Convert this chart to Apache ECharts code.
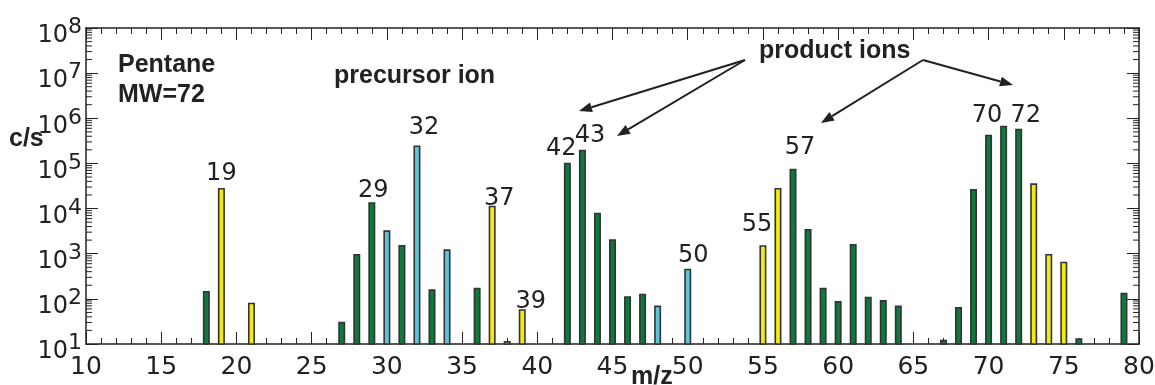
<!DOCTYPE html>
<html><head><meta charset="utf-8">
<script src="https://cdn.jsdelivr.net/npm/echarts@6/dist/echarts.min.js"></script>
<style>html,body{margin:0;padding:0;background:#fff}#c{width:1155px;height:385px}</style>
</head><body><div id="c"></div>
<script>
// m/z of each peak
const mz = [18,19,21,27,28,29,30,31,32,33,34,36,37,38,39,42,43,44,45,46,47,48,50,55,56,57,58,59,60,61,62,63,64,67,68,69,70,71,72,73,74,75,76,79];
// counts per second
const counts = [150,28600,82,31,990,13800,3300,1560,251000,163,1250,177,11600,11.6,59,104000,202000,8100,2080,114,130,71,467,1540,28600,76500,3530,177,90,1640,112,94,71,12.5,66,27200,433000,686000,589000,36300,990,665,13.4,137];
// ion group: g = green, y = yellow, b = blue
const ionType = ['g','y','y','g','g','g','b','g','b','g','b','g','y','y','y','g','g','g','g','g','g','b','b','y','y','g','g','g','g','g','g','g','g','g','g','g','g','g','g','y','y','y','g','g'];
// peaks with numeric labels
const labeledPeaks = [19,29,32,37,39,42,43,50,55,57,70,72];
const xTicks = [10,15,20,25,30,35,40,45,50,55,60,65,70,75,80];
const yDecades = [1,2,3,4,5,6,7,8];

const colors = {g:'#0b7a3b', y:'#f3ea12', b:'#5fc4da'};
const labelOffset = {19:[0,-14.5],29:[1.5,-11],32:[7,-18],37:[7,-7],39:[8.5,-7],42:[-6,-14],43:[7.5,-14],50:[5.5,-12.5],55:[-6,-20.5],57:[7,-20.5],70:[-1.5,-19],72:[7,-13]};

const G = {l:86, r:1139, t:28, b:344};
const numFont = 'DejaVu Sans';
const boldFont = 'Liberation Sans';

const barData = mz.map((m,i)=>{
  const d = {value:[m, counts[i]], itemStyle:{color:colors[ionType[i]]}};
  if (labeledPeaks.includes(m)) {
    const o = labelOffset[m];
    d.label = {show:true, position:'top', distance:0, offset:[o[0], o[1]+12], formatter:String(m)};
  }
  return d;
});

const minorVals = [];
for (let k=1;k<8;k++) for (let j=2;j<=9;j++) minorVals.push([10, j*Math.pow(10,k)]);

const chart = echarts.init(document.getElementById('c'));
const axisLine = {show:true, lineStyle:{color:'#222', width:1.5}};
const xBase = {type:'value', min:10, max:80, interval:5, axisLine, splitLine:{show:false},
  axisTick:{inside:true, length:12, lineStyle:{color:'#222', width:1}},
  minorTick:{show:true, splitNumber:5, length:6, lineStyle:{color:'#222', width:1}}};
const yBase = {type:'log', min:10, max:1e8, interval:1, logBase:10, axisLine, splitLine:{show:false},
  axisTick:{inside:true, length:12, lineStyle:{color:'#222', width:1}}};

chart.setOption({
  animation:false,
  grid:{left:G.l, right:1155-G.r, top:G.t, bottom:385-G.b, containLabel:false, outerBoundsMode:'none'},
  xAxis:[
    Object.assign({}, xBase, {position:'bottom',
      axisLabel:{fontFamily:numFont, fontSize:25, color:'#222', margin:11}}),
    Object.assign({}, xBase, {position:'top', axisLabel:{show:false}})
  ],
  yAxis:[
    Object.assign({}, yBase, {position:'left',
      axisLabel:{margin:4, formatter:v=>'{b|10}{s|'+Math.round(Math.log10(v))+'}',
        rich:{b:{fontFamily:numFont, fontSize:24, lineHeight:24, color:'#222', padding:[16,0,0,0]},
              s:{fontFamily:numFont, fontSize:22, lineHeight:22, color:'#222', padding:[0,0,1,0]}}}}),
    Object.assign({}, yBase, {position:'right', axisLabel:{show:false}})
  ],
  series:[
    {type:'bar', xAxisIndex:0, yAxisIndex:0, barWidth:7, clip:true, data:barData,
      itemStyle:{borderColor:'#333', borderWidth:1.6},
      label:{fontFamily:numFont, fontSize:24, color:'#222'}},
    {type:'custom', xAxisIndex:0, yAxisIndex:0, data:minorVals, encode:{x:0,y:1}, silent:true, clip:false,
      renderItem:(params, api)=>{
        const p = api.coord([10, api.value(1)]);
        const y = p[1];
        return {type:'group', children:[
          {type:'line', shape:{x1:G.l, y1:y, x2:G.l+6, y2:y}, style:{stroke:'#222', lineWidth:1}},
          {type:'line', shape:{x1:G.r-6, y1:y, x2:G.r, y2:y}, style:{stroke:'#222', lineWidth:1}}
        ]};
      }}
  ]
});

// annotations (pixel layout)
function arrow(x1,y1,x2,y2){
  const ang = Math.atan2(y2-y1, x2-x1), L=13, W=5;
  const bx = x2 - L*Math.cos(ang), by = y2 - L*Math.sin(ang);
  const nx = -Math.sin(ang), ny = Math.cos(ang);
  return [
    {type:'line', shape:{x1, y1, x2:bx, y2:by}, style:{stroke:'#222', lineWidth:2}},
    {type:'polygon', shape:{points:[[x2,y2],[bx+nx*W,by+ny*W],[bx-nx*W,by-ny*W]]}, style:{fill:'#222'}}
  ];
}
const boldText = (text,x,y) => ({type:'text', x, y, style:{text, fontFamily:boldFont, fontWeight:'bold', fontSize:25, fill:'#222', align:'left', verticalAlign:'middle'}});
chart.setOption({graphic:[
  boldText('Pentane',118,65),
  boldText('MW=72',118,95),
  boldText('precursor ion',334,76),
  boldText('product ions',759,51),
  boldText('c/s',9,139),
  boldText('m/z',631,377),
  ...arrow(745,60,579,111),
  ...arrow(745,60,617,136),
  ...arrow(923,60,1013,85),
  ...arrow(923,60,821,123)
]});
</script></body></html>
